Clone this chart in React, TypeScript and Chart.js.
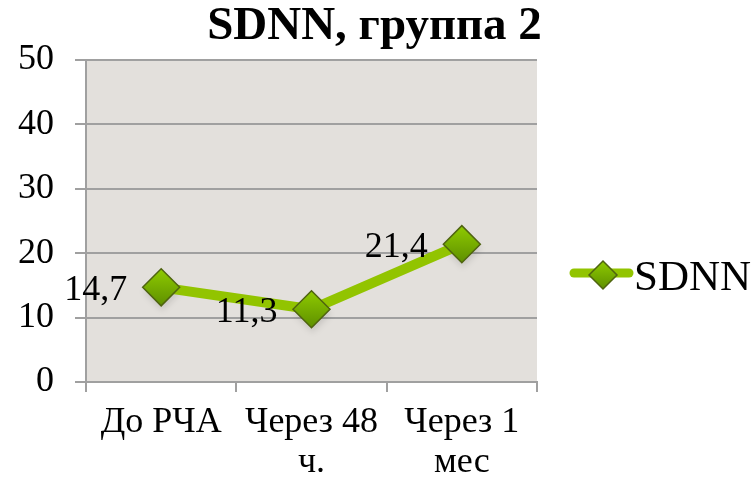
import React, { useEffect, useRef } from 'react';
import { Chart, registerables } from 'chart.js';

Chart.register(...registerables);

const categories: string[][] = [['До РЧА'], ['Через 48', 'ч.'], ['Через 1', 'мес']];
const sdnnValues: number[] = [14.7, 11.3, 21.4];
const valueLabels: string[] = ['14,7', '11,3', '21,4'];
const yMin = 0;
const yMax = 50;
const yStep = 10;
const seriesName = 'SDNN';
const titleText = 'SDNN, группа 2';

const FONT = "'Liberation Serif', 'Times New Roman', serif";
const LINE_COLOR = '#92C400';
const GRID_COLOR = '#A0A0A0';
const PLOT_BG = '#E3E0DC';
const MARKER_BORDER = '#4F6410';

function markerGradient(ctx: CanvasRenderingContext2D, y: number, r: number) {
  if (!isFinite(y)) return '#78AE00';
  const g = ctx.createLinearGradient(0, y - r, 0, y + r);
  g.addColorStop(0, '#8FCB00');
  g.addColorStop(1, '#5E8F00');
  return g;
}

function drawDiamond(ctx: CanvasRenderingContext2D, x: number, y: number, r: number) {
  ctx.beginPath();
  ctx.moveTo(x - r, y);
  ctx.lineTo(x, y - r);
  ctx.lineTo(x + r, y);
  ctx.lineTo(x, y + r);
  ctx.closePath();
}

const backgroundPlugin = {
  id: 'bgPlugin',
  beforeDraw(chart: any) {
    const { ctx, chartArea, width, height } = chart;
    ctx.save();
    ctx.fillStyle = '#FFFFFF';
    ctx.fillRect(0, 0, width, height);
    ctx.fillStyle = PLOT_BG;
    ctx.fillRect(chartArea.left, chartArea.top, chartArea.right - chartArea.left, chartArea.bottom - chartArea.top);
    ctx.restore();
  },
};

const titlePlugin = {
  id: 'titlePlugin',
  afterDraw(chart: any) {
    const { ctx, width } = chart;
    ctx.save();
    ctx.font = `bold 47px ${FONT}`;
    ctx.fillStyle = '#000';
    ctx.textAlign = 'center';
    ctx.textBaseline = 'alphabetic';
    ctx.fillText(titleText, width / 2 - 1, 39);
    ctx.restore();
  },
};

const markerShadowPlugin = {
  id: 'markerShadow',
  beforeDatasetsDraw(chart: any) {
    const meta = chart.getDatasetMeta(0);
    const ctx = chart.ctx;
    ctx.save();
    meta.data.forEach((pt: any) => {
      if (!isFinite(pt.x) || !isFinite(pt.y)) return;
      ctx.fillStyle = 'rgba(0,0,0,0.12)';
      ctx.filter = 'blur(3px)';
      drawDiamond(ctx, pt.x + 1, pt.y + 5, 18);
      ctx.fill();
    });
    ctx.restore();
  },
};

const valueLabelPlugin = {
  id: 'valueLabels',
  afterDatasetsDraw(chart: any) {
    const meta = chart.getDatasetMeta(0);
    const ctx = chart.ctx;
    ctx.save();
    ctx.font = `36px ${FONT}`;
    ctx.fillStyle = '#000';
    ctx.textAlign = 'right';
    ctx.textBaseline = 'alphabetic';
    meta.data.forEach((pt: any, i: number) => {
      ctx.fillText(valueLabels[i], pt.x - 34, pt.y + 13);
    });
    ctx.restore();
  },
};

const legendPlugin = {
  id: 'customLegend',
  afterDraw(chart: any) {
    const ctx = chart.ctx;
    const cx = 603;
    const cy = 275;
    ctx.save();
    ctx.strokeStyle = LINE_COLOR;
    ctx.lineWidth = 9;
    ctx.lineCap = 'round';
    ctx.beginPath();
    ctx.moveTo(574, cy - 2);
    ctx.lineTo(629, cy - 2);
    ctx.stroke();
    drawDiamond(ctx, cx, cy, 14);
    ctx.fillStyle = markerGradient(ctx, cy, 14);
    ctx.fill();
    ctx.lineWidth = 1.5;
    ctx.strokeStyle = MARKER_BORDER;
    ctx.stroke();
    ctx.font = `43px ${FONT}`;
    ctx.fillStyle = '#000';
    ctx.textAlign = 'left';
    ctx.textBaseline = 'alphabetic';
    ctx.fillText(seriesName, 634, 290);
    ctx.restore();
  },
};

export default function App() {
  const canvasRef = useRef<HTMLCanvasElement | null>(null);

  useEffect(() => {
    const canvas = canvasRef.current;
    if (!canvas) return;
    const chart = new Chart(canvas, {
      type: 'line',
      data: {
        labels: categories,
        datasets: [
          {
            label: seriesName,
            data: sdnnValues,
            borderColor: LINE_COLOR,
            borderWidth: 10,
            tension: 0,
            pointStyle: 'rectRot',
            pointRadius: 18.5,
            pointHoverRadius: 18.5,
            pointBorderColor: MARKER_BORDER,
            pointBorderWidth: 1.5,
            pointBackgroundColor: (c: any) => {
              const ch = c.chart;
              if (c.type !== 'data' || !ch.scales || !ch.scales.y) return '#78AE00';
              const v = c.parsed ? c.parsed.y : sdnnValues[c.dataIndex];
              const y = ch.scales.y.getPixelForValue(v);
              return markerGradient(ch.ctx, y, 18.5);
            },
          },
        ],
      },
      options: {
        responsive: false,
        animation: false,
        devicePixelRatio: 1,
        layout: { padding: { top: 60, right: 751 - 537, left: 0, bottom: 0 } },
        plugins: {
          legend: { display: false },
          title: { display: false },
          tooltip: { enabled: false },
        },
        scales: {
          x: {
            offset: true,
            grid: {
              offset: true,
              drawOnChartArea: false,
              drawTicks: true,
              tickLength: 10,
              color: GRID_COLOR,
              lineWidth: 2,
            },
            border: { display: true, color: GRID_COLOR, width: 2 },
            ticks: {
              color: '#000',
              padding: 10,
              maxRotation: 0,
              autoSkip: false,
              font: { family: FONT, size: 36, lineHeight: 1.12 },
            },
            afterFit(scale: any) {
              scale.height = 483 - 382;
            },
          },
          y: {
            min: yMin,
            max: yMax,
            ticks: {
              stepSize: yStep,
              color: '#000',
              padding: 21,
              font: { family: FONT, size: 36 },
            },
            grid: {
              color: GRID_COLOR,
              lineWidth: 2,
              tickLength: 11,
              drawTicks: true,
            },
            border: { display: true, color: GRID_COLOR, width: 2 },
            afterFit(scale: any) {
              scale.width = 86;
            },
          },
        },
      },
      plugins: [backgroundPlugin, markerShadowPlugin, valueLabelPlugin, titlePlugin, legendPlugin],
    });
    return () => chart.destroy();
  }, []);

  return (
    <div style={{ position: 'absolute', left: 0, top: 0, width: 751, height: 483, background: '#fff' }}>
      <canvas ref={canvasRef} width={751} height={483} style={{ display: 'block' }} />
    </div>
  );
}
